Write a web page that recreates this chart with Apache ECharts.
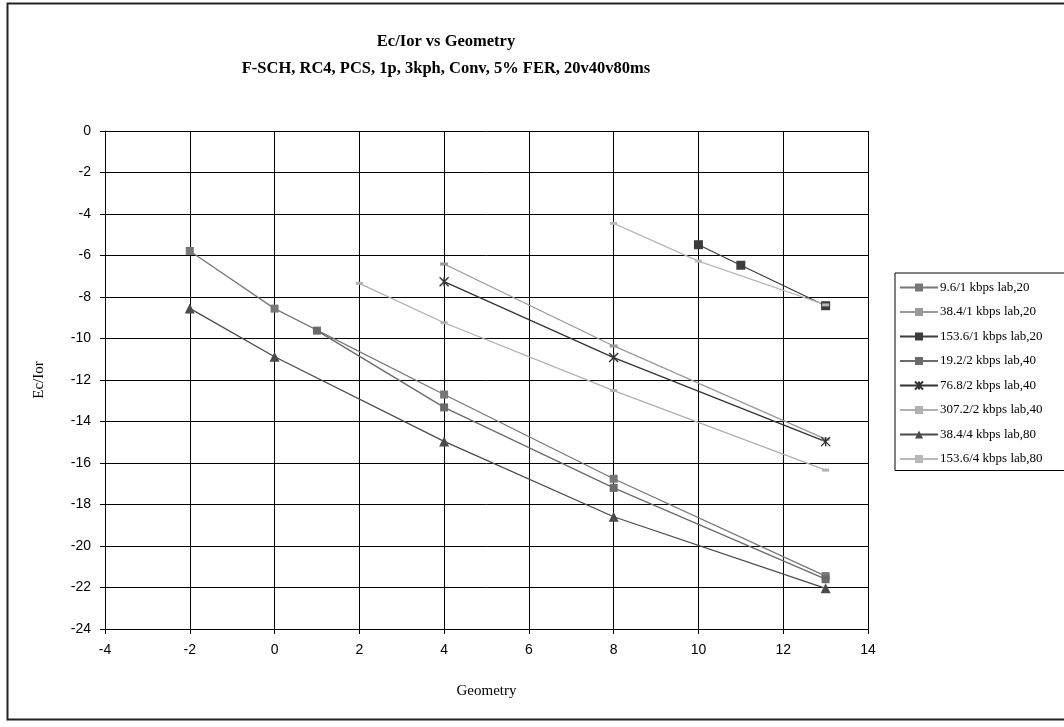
<!DOCTYPE html>
<html>
<head>
<meta charset="utf-8">
<title>Ec/Ior vs Geometry</title>
<script src="https://cdn.jsdelivr.net/npm/echarts@6/dist/echarts.min.js"></script>
<style>
  html, body { margin: 0; padding: 0; background: #fff; }
  #chart { width: 1064px; height: 727px; }
</style>
</head>
<body>
<div id="chart"></div>
<script>
// values: [geometry, Ec/Ior]
const s96_lab20 = [[-2, -5.78], [0, -8.56], [4, -12.7], [8, -16.76], [13, -21.45]];
const s384_lab20 = [[4, -6.41], [8, -10.36], [13, -14.85]];
const s1536_lab20 = [[10, -5.48], [11, -6.47], [13, -8.42]];
const s192_lab40 = [[1, -9.62], [4, -13.32], [8, -17.2], [13, -21.6]];
const s768_lab40 = [[4, -7.26], [8, -10.92], [13, -14.97]];
const s3072_lab40 = [[2, -7.34], [4, -9.24], [8, -12.51], [13, -16.34]];
const s384_lab80 = [[-2, -8.55], [0, -10.88], [4, -14.96], [8, -18.59], [13, -22.04]];
const s1536_lab80 = [[8, -4.45], [10, -6.27], [13, -8.38]];

const seriesNames = [
  '9.6/1 kbps lab,20', '38.4/1 kbps lab,20', '153.6/1 kbps lab,20',
  '19.2/2 kbps lab,40', '76.8/2 kbps lab,40', '307.2/2 kbps lab,40',
  '38.4/4 kbps lab,80', '153.6/4 kbps lab,80'
];

const serif = '"Liberation Serif", "DejaVu Serif", serif';
const sans = '"Liberation Sans", Arial, sans-serif';
const starPath = 'path://M0,0L10,10M10,0L0,10M5,0L5,10';

function line(name, data, color, symbol, size, extra) {
  return Object.assign({
    name: name,
    type: 'line',
    data: data,
    symbol: symbol,
    symbolSize: size,
    showAllSymbol: true,
    lineStyle: { color: color, width: 1.3 },
    itemStyle: { color: color },
    emphasis: { disabled: true },
    animation: false
  }, extra || {});
}

const chart = echarts.init(document.getElementById('chart'));

chart.setOption({
  backgroundColor: '#fff',
  graphic: [{
    type: 'rect',
    shape: { x: 7.5, y: 3.5, width: 1100, height: 716 },
    style: { fill: 'none', stroke: '#222', lineWidth: 2 },
    silent: true,
    z: -1
  }],
  title: {
    text: 'Ec/Ior vs Geometry\nF-SCH, RC4, PCS, 1p, 3kph, Conv, 5% FER, 20v40v80ms',
    left: 441,
    top: 23,
    textAlign: 'center',
    textStyle: {
      fontFamily: serif,
      fontWeight: 'bold',
      fontSize: 16.5,
      lineHeight: 27,
      color: '#000'
    }
  },
  legend: {
    orient: 'vertical',
    left: 895,
    top: 273,
    width: 200,
    padding: [8, 60, 5, 4],
    itemWidth: 38,
    itemHeight: 10,
    itemGap: 11.5,
    borderColor: '#000',
    borderWidth: 1,
    data: seriesNames,
    textStyle: { fontFamily: serif, fontSize: 13, color: '#000', padding: [0, 0, 0, -3] }
  },
  grid: { left: 105, right: 196, top: 131, bottom: 98 },
  xAxis: {
    type: 'value',
    min: -4,
    max: 14,
    interval: 2,
    name: 'Geometry',
    nameLocation: 'middle',
    nameGap: 55,
    nameTextStyle: { fontFamily: serif, fontSize: 15, color: '#000' },
    axisLine: { onZero: false, lineStyle: { color: '#000', width: 1 } },
    axisTick: { show: true, length: 5, lineStyle: { color: '#000' } },
    axisLabel: { fontFamily: sans, fontSize: 14, color: '#000', margin: 14 },
    splitLine: { show: true, lineStyle: { color: '#000', width: 1 } }
  },
  yAxis: {
    type: 'value',
    min: -24,
    max: 0,
    interval: 2,
    name: 'Ec/Ior',
    nameLocation: 'middle',
    nameGap: 58,
    nameTextStyle: { fontFamily: serif, fontSize: 15, color: '#000' },
    axisLine: { show: true, onZero: false, lineStyle: { color: '#000', width: 1 } },
    axisTick: { show: true, length: 5, lineStyle: { color: '#000' } },
    axisLabel: { fontFamily: sans, fontSize: 14, color: '#000', margin: 14 },
    splitLine: { show: true, lineStyle: { color: '#000', width: 1 } }
  },
  series: [
    line(seriesNames[0], s96_lab20, '#777777', 'rect', 8),
    line(seriesNames[1], s384_lab20, '#999999', 'rect', [8, 3]),
    line(seriesNames[2], s1536_lab20, '#3c3c3c', 'rect', 9),
    line(seriesNames[3], s192_lab40, '#6a6a6a', 'rect', 8),
    line(seriesNames[4], s768_lab40, '#333333', starPath, 9, {
      itemStyle: { color: 'none', borderColor: '#333333', borderWidth: 1.4 }
    }),
    line(seriesNames[5], s3072_lab40, '#b0b0b0', 'rect', [7, 3]),
    line(seriesNames[6], s384_lab80, '#4a4a4a', 'triangle', 10),
    line(seriesNames[7], s1536_lab80, '#b8b8b8', 'rect', [7, 3])
  ]
});
</script>
</body>
</html>
